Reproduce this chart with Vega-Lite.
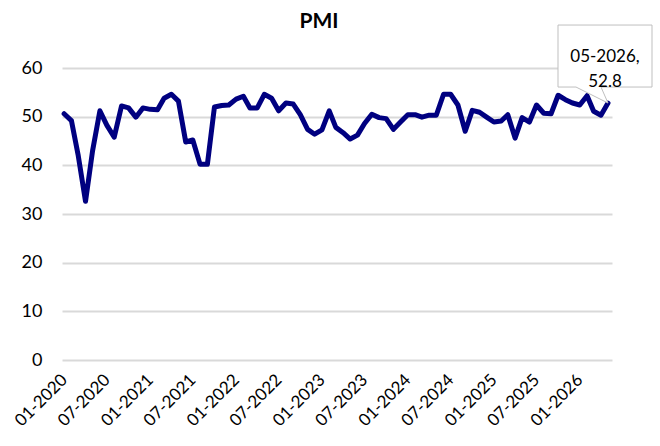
{
  "$schema": "https://vega.github.io/schema/vega-lite/v6.json",
  "autosize": "none",
  "width": 550,
  "height": 292,
  "padding": {"left": 62, "top": 68, "right": 48, "bottom": 86},
  "background": "white",
  "title": {"text": "PMI", "fontSize": 21, "font": "Lato", "fontWeight": "bold", "color": "#000000", "anchor": "middle", "dx": -18, "offset": 0, "baseline": "alphabetic", "dy": 26},
  "config": {"view": {"stroke": null}, "font": "Lato"},
  "data": {"values": [
    {"date": "2020-01-01", "value": 50.6}, {"date": "2020-02-01", "value": 49.2}, {"date": "2020-03-01", "value": 42.0}, {"date": "2020-04-01", "value": 32.6},
    {"date": "2020-05-01", "value": 43.0}, {"date": "2020-06-01", "value": 51.2}, {"date": "2020-07-01", "value": 48.2}, {"date": "2020-08-01", "value": 45.8},
    {"date": "2020-09-01", "value": 52.2}, {"date": "2020-10-01", "value": 51.8}, {"date": "2020-11-01", "value": 49.9}, {"date": "2020-12-01", "value": 51.8},
    {"date": "2021-01-01", "value": 51.5}, {"date": "2021-02-01", "value": 51.4}, {"date": "2021-03-01", "value": 53.8}, {"date": "2021-04-01", "value": 54.6},
    {"date": "2021-05-01", "value": 53.2}, {"date": "2021-06-01", "value": 44.8}, {"date": "2021-07-01", "value": 45.2}, {"date": "2021-08-01", "value": 40.2},
    {"date": "2021-09-01", "value": 40.2}, {"date": "2021-10-01", "value": 52.0}, {"date": "2021-11-01", "value": 52.3}, {"date": "2021-12-01", "value": 52.4},
    {"date": "2022-01-01", "value": 53.6}, {"date": "2022-02-01", "value": 54.2}, {"date": "2022-03-01", "value": 51.8}, {"date": "2022-04-01", "value": 51.8},
    {"date": "2022-05-01", "value": 54.6}, {"date": "2022-06-01", "value": 53.8}, {"date": "2022-07-01", "value": 51.2}, {"date": "2022-08-01", "value": 52.8},
    {"date": "2022-09-01", "value": 52.6}, {"date": "2022-10-01", "value": 50.4}, {"date": "2022-11-01", "value": 47.4}, {"date": "2022-12-01", "value": 46.4},
    {"date": "2023-01-01", "value": 47.3}, {"date": "2023-02-01", "value": 51.2}, {"date": "2023-03-01", "value": 47.8}, {"date": "2023-04-01", "value": 46.7},
    {"date": "2023-05-01", "value": 45.4}, {"date": "2023-06-01", "value": 46.2}, {"date": "2023-07-01", "value": 48.6}, {"date": "2023-08-01", "value": 50.5},
    {"date": "2023-09-01", "value": 49.8}, {"date": "2023-10-01", "value": 49.6}, {"date": "2023-11-01", "value": 47.4}, {"date": "2023-12-01", "value": 48.9},
    {"date": "2024-01-01", "value": 50.4}, {"date": "2024-02-01", "value": 50.4}, {"date": "2024-03-01", "value": 49.9}, {"date": "2024-04-01", "value": 50.3},
    {"date": "2024-05-01", "value": 50.3}, {"date": "2024-06-01", "value": 54.6}, {"date": "2024-07-01", "value": 54.6}, {"date": "2024-08-01", "value": 52.4},
    {"date": "2024-09-01", "value": 47.0}, {"date": "2024-10-01", "value": 51.3}, {"date": "2024-11-01", "value": 50.9}, {"date": "2024-12-01", "value": 49.9},
    {"date": "2025-01-01", "value": 48.9}, {"date": "2025-02-01", "value": 49.1}, {"date": "2025-03-01", "value": 50.4}, {"date": "2025-04-01", "value": 45.6},
    {"date": "2025-05-01", "value": 49.8}, {"date": "2025-06-01", "value": 48.9}, {"date": "2025-07-01", "value": 52.4}, {"date": "2025-08-01", "value": 50.7},
    {"date": "2025-09-01", "value": 50.6}, {"date": "2025-10-01", "value": 54.4}, {"date": "2025-11-01", "value": 53.5}, {"date": "2025-12-01", "value": 52.8},
    {"date": "2026-01-01", "value": 52.4}, {"date": "2026-02-01", "value": 54.3}, {"date": "2026-03-01", "value": 51.1}, {"date": "2026-04-01", "value": 50.3},
    {"date": "2026-05-01", "value": 52.8}
  ]},
  "encoding": {
    "x": {
      "field": "date", "type": "temporal",
      "scale": {"type": "utc", "domain": ["2019-12-23", "2026-05-18"]},
      "axis": {
        "title": null, "format": "%m-%Y", "tickCount": {"interval": "month", "step": 6},
        "labelAngle": -45, "labelAlign": "right", "labelBaseline": "middle", "labelPadding": 17,
        "labelFontSize": 17, "labelColor": "#000000", "labelFont": "Lato",
        "domain": false, "ticks": false, "grid": false, "labelOverlap": false, "labelFlush": false
      }
    },
    "y": {
      "field": "value", "type": "quantitative",
      "scale": {"domain": [0, 60], "nice": false, "zero": true},
      "axis": {
        "title": null, "values": [0, 10, 20, 30, 40, 50, 60],
        "domain": false, "ticks": false, "grid": true, "gridColor": "#d9d9d9", "gridWidth": 2,
        "labelFontSize": 18, "labelColor": "#000000", "labelFont": "Lato", "labelPadding": 20
      }
    }
  },
  "layer": [
    {
      "mark": {"type": "line", "color": "#000080", "strokeWidth": 5, "strokeJoin": "round", "strokeCap": "round"}
    },
    {
      "transform": [{"filter": "year(datum.date) == 2026 && month(datum.date) == 4"}],
      "mark": {
        "type": "point", "filled": true, "fill": "white", "opacity": 1, "fillOpacity": 1,
        "stroke": "#bfbfbf", "strokeWidth": 1, "strokeOpacity": 1, "size": 25600,
        "shape": "M -0.625 -0.975 L 0.55 -0.975 L 0.55 -0.2 L -0.0875 -0.2 L 0 0 L -0.4 -0.2 L -0.625 -0.2 Z"
      }
    },
    {
      "transform": [{"filter": "year(datum.date) == 2026 && month(datum.date) == 4"}],
      "mark": {
        "type": "text", "text": ["05-2026,", "52.8"], "font": "Lato", "fontSize": 17,
        "color": "#000000", "align": "center", "baseline": "middle", "lineHeight": 25,
        "dx": -3, "dy": -46
      }
    }
  ]
}
